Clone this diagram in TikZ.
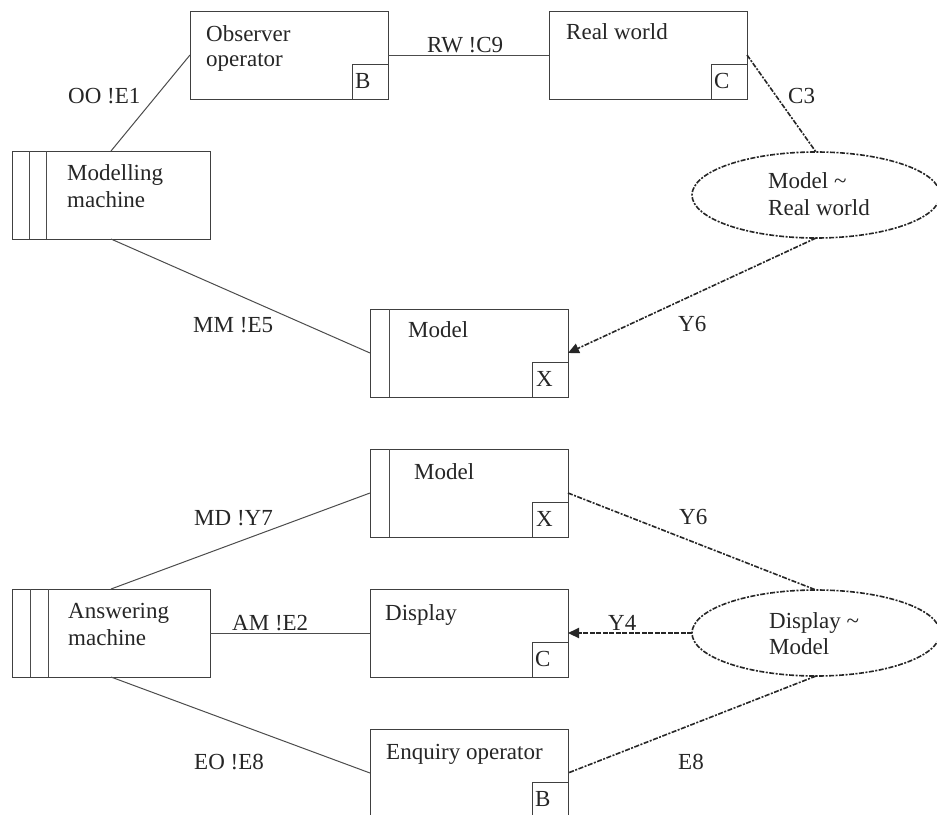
\documentclass[tikz,border=0pt]{standalone}
\usepackage{fontspec}
\setmainfont{Liberation Serif}
\usetikzlibrary{shapes.geometric,arrows.meta}

\begin{document}
\begin{tikzpicture}[x=1pt,y=-1pt,
  box/.style={draw=black!75, line width=1pt, rectangle, minimum width=198pt,
    minimum height=88pt, inner sep=0pt, outer sep=0pt, anchor=north west},
  tagbox/.style={draw=black!75, line width=1pt, rectangle, minimum width=36pt,
    minimum height=35pt, inner sep=0pt, outer sep=0pt, anchor=south east},
  txt/.style={inner sep=0pt, anchor=base west,
    font=\fontsize{23}{27}\selectfont, text=black!85},
  rel/.style={draw=black!85, line width=1.6pt,
    dash pattern=on 5pt off 1.5pt on 2pt off 1.5pt, ellipse,
    minimum width=248pt, minimum height=86pt, inner sep=0pt, outer sep=0pt},
  solidlink/.style={draw=black!70, line width=1pt},
  dashlink/.style={draw=black!85, line width=1.6pt,
    dash pattern=on 5pt off 1.5pt on 2pt off 1.5pt},
  arrowlink/.style={dashlink, -{Triangle[length=11pt,width=10pt]}},
]
\fill[white] (0,0) rectangle (937,814);
\useasboundingbox (0,0) rectangle (937,814);

% ---------- upper part: building the model ----------
\node[box] (obs) at (190,11) {};
\node[tagbox] (obsT) at (obs.south east) {};
\node[txt] (obsL1) at (206,41) {Observer};
\node[txt] (obsL2) at (206,66) {operator};
\node[txt] (obsTL) at ([xshift=3pt,yshift=11pt]obsT.south west) {B};

\node[box] (rw) at (549,11) {};
\node[tagbox] (rwT) at (rw.south east) {};
\node[txt] (rwL) at (566,39) {Real world};
\node[txt] (rwTL) at ([xshift=3pt,yshift=11pt]rwT.south west) {C};

\node[box] (modm) at (12,151) {};
\draw[solidlink] ([xshift=17pt]modm.north west) -- ([xshift=17pt]modm.south west);
\draw[solidlink] ([xshift=34pt]modm.north west) -- ([xshift=34pt]modm.south west);
\node[txt] (modmL1) at (67,180) {Modelling};
\node[txt] (modmL2) at (67,207) {machine};

\node[rel] (ell1) at (816,195) {};
\node[txt] (ell1L1) at (768,188) {Model \char`\~};
\node[txt] (ell1L2) at (768,215) {Real world};

\node[box] (model1) at (370,309) {};
\draw[solidlink] ([xshift=19pt]model1.north west) -- ([xshift=19pt]model1.south west);
\node[tagbox] (model1T) at (model1.south east) {};
\node[txt] (model1L) at (408,337) {Model};
\node[txt] (model1TL) at ([xshift=4pt,yshift=11pt]model1T.south west) {X};

\draw[solidlink] (modm.north) -- (obs.west);
\draw[solidlink] (obs.east) -- (rw.west);
\draw[dashlink] (rw.east) -- (ell1.north);
\draw[solidlink] (modm.south) -- (model1.west);
\draw[arrowlink] (ell1.south) -- (model1.east);

\node[txt] (lOO) at (68,103) {OO !E1};
\node[txt] (lRW) at (427,52) {RW !C9};
\node[txt] (lC3) at (788,103) {C3};
\node[txt] (lMM) at (193,332) {MM !E5};
\node[txt] (lY6a) at (678,331) {Y6};

% ---------- lower part: answering enquiries ----------
\node[box] (model2) at (370,449) {};
\draw[solidlink] ([xshift=19pt]model2.north west) -- ([xshift=19pt]model2.south west);
\node[tagbox] (model2T) at (model2.south east) {};
\node[txt] (model2L) at (414,479) {Model};
\node[txt] (model2TL) at ([xshift=4pt,yshift=11pt]model2T.south west) {X};

\node[box] (ansm) at (12,589) {};
\draw[solidlink] ([xshift=18pt]ansm.north west) -- ([xshift=18pt]ansm.south west);
\draw[solidlink] ([xshift=36pt]ansm.north west) -- ([xshift=36pt]ansm.south west);
\node[txt] (ansmL1) at (68,618) {Answering};
\node[txt] (ansmL2) at (68,645) {machine};

\node[box] (disp) at (370,589) {};
\node[tagbox] (dispT) at (disp.south east) {};
\node[txt] (dispL) at (385,620) {Display};
\node[txt] (dispTL) at ([xshift=3pt,yshift=11pt]dispT.south west) {C};

\node[box] (enq) at (370,729) {};
\node[tagbox] (enqT) at (enq.south east) {};
\node[txt] (enqL) at (386,759) {Enquiry operator};
\node[txt] (enqTL) at ([xshift=3pt,yshift=11pt]enqT.south west) {B};

\node[rel] (ell2) at (816,633) {};
\node[txt] (ell2L1) at (769,628) {Display \char`\~};
\node[txt] (ell2L2) at (769,654) {Model};

\draw[solidlink] (ansm.north) -- (model2.west);
\draw[solidlink] (ansm.east) -- (disp.west);
\draw[solidlink] (ansm.south) -- (enq.west);
\draw[dashlink] (model2.east) -- (ell2.north);
\draw[arrowlink, line width=2.2pt, dash pattern=on 5pt off 1.5pt] (ell2.west) -- (disp.east);
\draw[dashlink] (ell2.south) -- (enq.east);

\node[txt] (lMD) at (194,525) {MD !Y7};
\node[txt] (lAM) at (232,630) {AM !E2};
\node[txt] (lEO) at (194,769) {EO !E8};
\node[txt] (lY6b) at (679,524) {Y6};
\node[txt] (lY4) at (608,630) {Y4};
\node[txt] (lE8) at (678,769) {E8};
\end{tikzpicture}
\end{document}
